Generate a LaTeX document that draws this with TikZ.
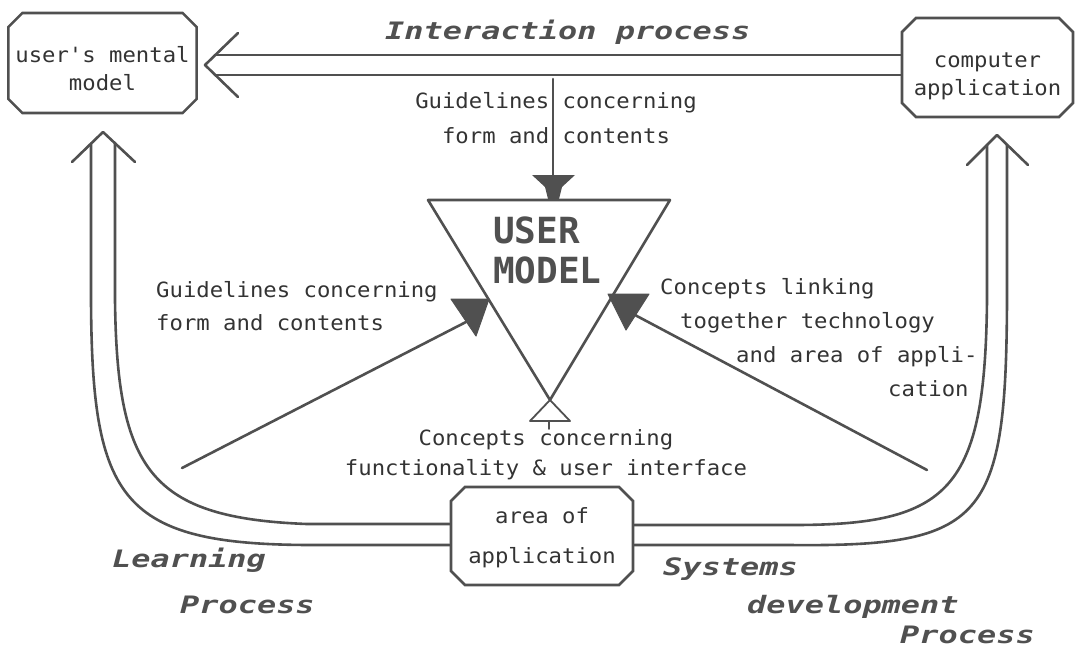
\documentclass[tikz,border=0pt]{standalone}
\usepackage{fontspec}
\usetikzlibrary{shapes.misc}
\newfontfamily\monofont[FakeStretch=1.06]{DejaVu Sans Mono}
\newfontfamily\procfont[FakeStretch=1.33]{DejaVu Sans Mono}
\newfontfamily\umfont{DejaVu Sans Mono}
\definecolor{ln}{HTML}{505050}
\definecolor{tx}{HTML}{333333}
\begin{document}
\begin{tikzpicture}[x=1pt,y=-1pt,
  line/.style={draw=ln,line width=2.6pt,line join=round,line cap=round},
  box/.style={chamfered rectangle, chamfered rectangle xsep=7pt, chamfered rectangle ysep=7pt,
    draw=ln, line width=2.6pt, inner sep=0pt, text=tx,
    font=\monofont\fontsize{21}{28}\selectfont, align=center},
  lbl/.style={text=tx, inner sep=0pt},
  proc/.style={text=ln, font=\procfont\bfseries\itshape\fontsize{24}{24}\selectfont, inner sep=0pt, anchor=base west},
  head/.style={fill=ln, draw=ln, line width=1pt, line join=round}
]
\useasboundingbox (0,0) rectangle (1075,649);

% boxes
\node[box, minimum width=185pt, minimum height=100pt] (umm) at (102.5,63) {\rule{0pt}{28pt}user's mental\\model};
\node[box, minimum width=171pt, minimum height=99pt] (comp) at (987.5,67.5) {\rule{0pt}{33pt}computer\\application};
\node[box, minimum width=182pt, minimum height=98pt, font=\monofont\fontsize{21}{40}\selectfont] (area) at (542,536) {\rule{0pt}{19pt}area of\\application};

% labels
\node[lbl, anchor=north, align=center, font=\monofont\fontsize{21}{35}\selectfont] (gtop) at (556,92) {Guidelines concerning\\form and contents};
\node[lbl, anchor=north west, align=left, font=\monofont\fontsize{21}{33}\selectfont] (gleft) at (156,281) {Guidelines concerning\\form and contents};
\node[lbl, anchor=north west, align=left, font=\monofont\fontsize{21}{34}\selectfont] (clink) at (660,278) {Concepts linking\\\hspace*{20pt}together technology\\\hspace*{76pt}and area of appli-\\\hspace*{228pt}cation};
\node[lbl, anchor=north, align=center, font=\monofont\fontsize{21}{30}\selectfont] (cfunc) at (546,429) {Concepts concerning\\functionality \& user interface};
\node[lbl, anchor=north west, align=left, font=\umfont\bfseries\fontsize{36}{40}\selectfont, text=ln] (um) at (493,217) {USER\\MODEL};

\node[proc] (ip) at (385,39) {Interaction process};
\node[proc] (lp1) at (112,567) {Learning};
\node[proc] (lp2) at (180,613) {Process};
\node[proc] (sd1) at (663,575) {Systems};
\node[proc] (sd2) at (747,613) {development};
\node[proc] (sd3) at (900,643) {Process};

% top double arrow
\coordinate (Ttip) at (205,65);
\coordinate (Tb1) at (238,33);
\coordinate (Tb2) at (238,97);
\coordinate (Tu) at (215,55);
\coordinate (Tl) at (215,75);
\draw[line] (Tb1) -- (Ttip) -- (Tb2);
\draw[line] ([yshift=12.5pt]comp.west) -- (Tu);
\draw[line] ([yshift=-7.5pt]comp.west) -- (Tl);

% left U double arrow (learning process)
\coordinate (Ltip) at (103,132);
\coordinate (Lb1) at (72,162);
\coordinate (Lb2) at (135,162);
\coordinate (Lin) at (115,143);
\coordinate (Lout) at (91,143.5);
\draw[line] (Lb1) -- (Ltip) -- (Lb2);
\draw[line] ([yshift=12pt]area.west) -- (307,524) .. controls (150,518) and (117,470) .. (115,300) -- (Lin);
\draw[line] ([yshift=-9pt]area.west) -- (313,545) .. controls (120,545) and (92,500) .. (91,300) -- (Lout);

% right U double arrow (systems development process)
\coordinate (Rtip) at (997,135);
\coordinate (Rb1) at (967,165);
\coordinate (Rb2) at (1028,165);
\coordinate (Rin) at (987,145);
\coordinate (Rout) at (1007,145);
\draw[line] (Rb1) -- (Rtip) -- (Rb2);
\draw[line] ([yshift=11pt]area.east) -- (793,525) .. controls (950,525) and (985,490) .. (987,300) -- (Rin);
\draw[line] ([yshift=-9pt]area.east) -- (790,545) .. controls (985,547) and (1006,520) .. (1007,300) -- (Rout);

% user model triangle
\coordinate (TL) at (428,200);
\coordinate (TR) at (670,200);
\coordinate (Tap) at (550,400);
\draw[line] (TL) -- (TR) -- (Tap) -- cycle;

% small open arrowhead at apex
\draw[line, line width=1.8pt, fill=white] (Tap) -- (530,421) -- (570,421) -- cycle;
\coordinate (Sst) at (549,421);
\coordinate (Sen) at (549,429);
\draw[line, line width=1.5pt] (Sst) -- (Sen);

% top guideline arrow
\coordinate (Gs) at (553,79);
\coordinate (Ge) at (553,180);
\draw[line] (Gs) -- (Ge);
\fill[ln] (532,175) -- (575,175) -- (562,187) -- (559,199) -- (548,199) -- (545,187) -- cycle;

% left diagonal arrow
\coordinate (Dl) at (182,468);
\coordinate (Dle) at (466,322);
\draw[line] (Dl) -- (Dle);
\filldraw[head] (451,299) -- (489,299) -- (476,336) -- cycle;

% right diagonal arrow
\coordinate (Dr) at (927,470);
\coordinate (Dre) at (635,315);
\draw[line] (Dr) -- (Dre);
\filldraw[head] (608,294) -- (649,294) -- (626,330) -- cycle;
\end{tikzpicture}
\end{document}
